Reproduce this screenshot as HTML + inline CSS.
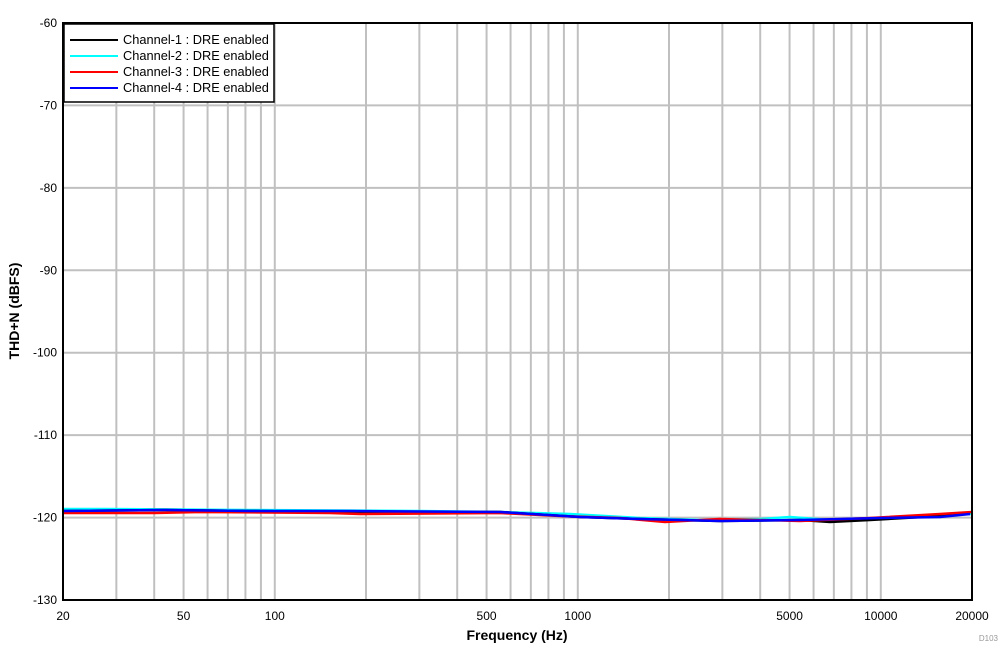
<!DOCTYPE html><html><head><style>body{margin:0;background:#fff}svg{display:block;font-family:"Liberation Sans",sans-serif}</style></head><body>
<svg width="1008" height="652" xmlns="http://www.w3.org/2000/svg">
<g id="grid" stroke="#c0c0c0" stroke-width="2"></g>
<g id="lbl" font-size="12" fill="#000"></g>
<g fill="none" stroke-width="2.5">
<polyline stroke="#00ffff" points="63,509 105,509 250,510 420,511 500,512 570,514 640,518 700,520 760,519 790,517 830,520 900,517 972,514"/>
<polyline stroke="#000" points="63,511 165,510 250,511 350,512 500,512 580,517 640,519 720,521 800,520 830,522 870,520 940,516 970,513"/>
<polyline stroke="#f00" points="63,513 155,513 200,512 330,513 360,514 500,513 560,516 620,518 665,522 720,519 800,521 870,518 940,514 972,512"/>
<polyline stroke="#0000ff" points="63,511 165,510 250,511 350,511 500,512 580,517 640,519 720,521 800,520 880,518 940,517 970,514"/>
</g>
<rect x="63" y="23" width="909" height="577" fill="none" stroke="#000" stroke-width="2"/>
<g font-size="12.8">
<rect x="64" y="24" width="210" height="78" fill="#fff" stroke="#000" stroke-width="1.5"/>
<line x1="70" y1="40" x2="118" y2="40" stroke="#000" stroke-width="2"/><text x="123" y="44">Channel-1 : DRE enabled</text>
<line x1="70" y1="56" x2="118" y2="56" stroke="#00ffff" stroke-width="2"/><text x="123" y="60">Channel-2 : DRE enabled</text>
<line x1="70" y1="72" x2="118" y2="72" stroke="#f00" stroke-width="2"/><text x="123" y="76">Channel-3 : DRE enabled</text>
<line x1="70" y1="88" x2="118" y2="88" stroke="#0000ff" stroke-width="2"/><text x="123" y="92">Channel-4 : DRE enabled</text>
</g>
<text x="517" y="640" font-size="14" font-weight="bold" text-anchor="middle">Frequency (Hz)</text>
<text transform="translate(19,311) rotate(-90)" font-size="14" font-weight="bold" text-anchor="middle">THD+N (dBFS)</text>
<text x="998" y="641" font-size="8" fill="#999" text-anchor="end">D103</text>
<script>
var g=document.getElementById('grid'),l=document.getElementById('lbl'),ns='http://www.w3.org/2000/svg';
function X(f){return 63+303*Math.log10(f/20);}
function ln(a,b,c,d){var e=document.createElementNS(ns,'line');e.setAttribute('x1',a);e.setAttribute('y1',b);e.setAttribute('x2',c);e.setAttribute('y2',d);g.appendChild(e);}
function tx(x,y,s,a){var e=document.createElementNS(ns,'text');e.setAttribute('x',x);e.setAttribute('y',y);e.setAttribute('text-anchor',a);e.textContent=s;l.appendChild(e);}
var fs=[30,40,50,60,70,80,90,100,200,300,400,500,600,700,800,900,1000,2000,3000,4000,5000,6000,7000,8000,9000,10000];
fs.forEach(function(f){ln(X(f),23,X(f),600);});
for(var i=0;i<=7;i++){var y=23+i*577/7;ln(63,y,972,y);tx(57,y+4,String(-60-10*i),'end');}
[20,50,100,500,1000,5000,10000,20000].forEach(function(f){tx(X(f),620,String(f),'middle');});
</script>
</svg></body></html>
